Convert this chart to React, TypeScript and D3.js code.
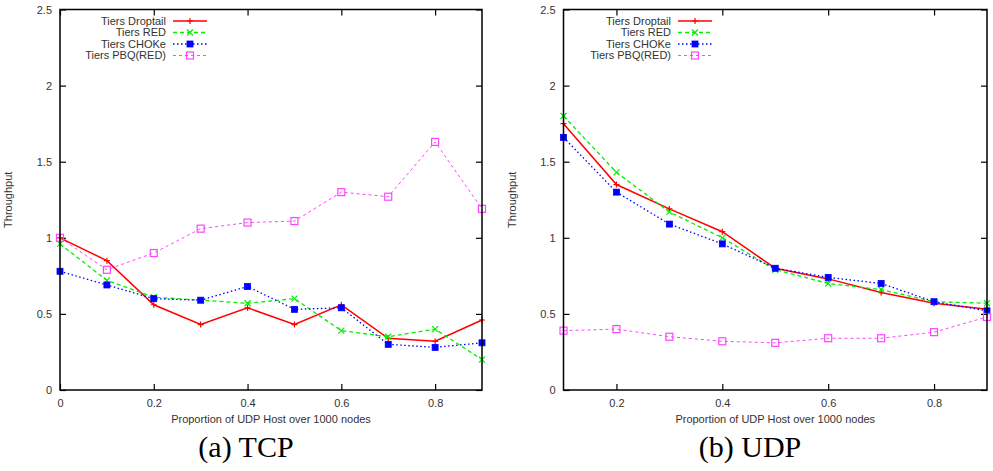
import React, { useEffect, useRef } from 'react'
import * as d3 from 'd3'

// proportion of UDP hosts
const tcpX = [0, 0.1, 0.2, 0.3, 0.4, 0.5, 0.6, 0.7, 0.8, 0.9]
const udpX = [0.1, 0.2, 0.3, 0.4, 0.5, 0.6, 0.7, 0.8, 0.9]

const seriesNames = ['Tiers Droptail', 'Tiers RED', 'Tiers CHOKe', 'Tiers PBQ(RED)']

const tcpDroptail = [1.0, 0.85, 0.56, 0.43, 0.54, 0.43, 0.56, 0.34, 0.32, 0.46]
const tcpRed = [0.96, 0.72, 0.61, 0.59, 0.57, 0.6, 0.39, 0.35, 0.4, 0.2]
const tcpChoke = [0.78, 0.69, 0.6, 0.59, 0.68, 0.53, 0.54, 0.3, 0.28, 0.31]
const tcpPbq = [1.0, 0.79, 0.9, 1.06, 1.1, 1.11, 1.3, 1.27, 1.63, 1.19]

const udpDroptail = [1.75, 1.35, 1.19, 1.04, 0.8, 0.73, 0.64, 0.57, 0.53]
const udpRed = [1.8, 1.43, 1.17, 1.0, 0.79, 0.7, 0.66, 0.58, 0.57]
const udpChoke = [1.66, 1.3, 1.09, 0.96, 0.8, 0.74, 0.7, 0.58, 0.52]
const udpPbq = [0.39, 0.4, 0.35, 0.32, 0.31, 0.34, 0.34, 0.38, 0.48]

const yTicks = [0, 0.5, 1, 1.5, 2, 2.5]
const xTicks = [0, 0.2, 0.4, 0.6, 0.8]

const styles = [
  { color: '#ff0000', dash: null, width: 1.5, marker: 'plus' },
  { color: '#00ee00', dash: '4,3', width: 1.3, marker: 'cross' },
  { color: '#0000ff', dash: '1.5,2.5', width: 1.3, marker: 'square' },
  { color: '#ff44ff', dash: '3,3', width: 1, marker: 'open' },
]

const font = 'Liberation Sans, Arial, sans-serif'
const textColor = '#333'

function drawMarker(g, kind, x, y, color) {
  if (kind === 'plus') {
    g.append('path').attr('d', `M${x - 3},${y}H${x + 3}M${x},${y - 3}V${y + 3}`)
      .attr('stroke', color).attr('stroke-width', 1.2)
  } else if (kind === 'cross') {
    g.append('path').attr('d', `M${x - 3},${y - 3}L${x + 3},${y + 3}M${x - 3},${y + 3}L${x + 3},${y - 3}`)
      .attr('stroke', color).attr('stroke-width', 1.2)
  } else if (kind === 'square') {
    g.append('rect').attr('x', x - 3).attr('y', y - 3).attr('width', 6).attr('height', 6)
      .attr('fill', color).attr('stroke', color).attr('stroke-width', 0.8)
  } else {
    g.append('rect').attr('x', x - 3.5).attr('y', y - 3.5).attr('width', 7).attr('height', 7)
      .attr('fill', 'none').attr('stroke', color).attr('stroke-width', 1.2)
  }
}

function drawPanel(svg, opts) {
  const { xs, series, xDomain, left, right, legendX } = opts
  const top = 9.5
  const bottom = 390
  const x = d3.scaleLinear().domain(xDomain).range([left, right])
  const y = d3.scaleLinear().domain([0, 2.5]).range([bottom, top])

  const g = svg.append('g')

  const xt = xTicks.filter(t => t >= xDomain[0] - 1e-9)
  const axisStyle = sel => {
    sel.select('.domain').remove()
    sel.selectAll('line').attr('stroke', '#000').attr('stroke-width', 1.2)
    sel.selectAll('text').attr('font-family', font).attr('font-size', 11).attr('fill', textColor)
  }

  g.append('g').attr('transform', `translate(0,${bottom})`)
    .call(d3.axisBottom(x).tickValues(xt).tickSize(-6).tickPadding(9).tickFormat(d3.format('')))
    .call(axisStyle)
  g.append('g').attr('transform', `translate(0,${top})`)
    .call(d3.axisTop(x).tickValues(xt).tickSize(-6).tickFormat(() => ''))
    .call(axisStyle)
  g.append('g').attr('transform', `translate(${left},0)`)
    .call(d3.axisLeft(y).tickValues(yTicks).tickSize(-6).tickPadding(8).tickFormat(d3.format('')))
    .call(axisStyle)
  g.append('g').attr('transform', `translate(${right},0)`)
    .call(d3.axisRight(y).tickValues(yTicks).tickSize(-6).tickFormat(() => ''))
    .call(axisStyle)

  const line = d3.line().x(d => x(d[0])).y(d => y(d[1]))

  series.forEach((vals, i) => {
    const s = styles[i]
    const pts = xs.map((v, j) => [v, vals[j]])
    g.append('path').attr('d', line(pts)).attr('fill', 'none')
      .attr('stroke', s.color).attr('stroke-width', s.width)
      .attr('stroke-dasharray', s.dash)
    pts.forEach(p => drawMarker(g, s.marker, x(p[0]), y(p[1]), s.color))
  })

  // legend
  seriesNames.forEach((name, i) => {
    const s = styles[i]
    const ly = 21 + i * 11.5
    g.append('text').attr('x', legendX).attr('y', ly).attr('dy', '0.35em')
      .attr('text-anchor', 'end').attr('font-family', font).attr('font-size', 11)
      .attr('fill', textColor).text(name)
    g.append('path').attr('d', `M${legendX + 7},${ly}H${legendX + 41}`)
      .attr('stroke', s.color).attr('stroke-width', s.width).attr('stroke-dasharray', s.dash)
    drawMarker(g, s.marker, legendX + 24, ly, s.color)
  })

  g.append('rect').attr('x', left).attr('y', top).attr('width', right - left).attr('height', bottom - top)
    .attr('fill', 'none').attr('stroke', '#000').attr('stroke-width', 1.5)

  g.append('text').attr('x', (left + right) / 2).attr('y', 423).attr('text-anchor', 'middle')
    .attr('font-family', font).attr('font-size', 11).attr('fill', textColor)
    .text('Proportion of UDP Host over 1000 nodes')
  g.append('text').attr('transform', `translate(${left - 48},${(top + bottom) / 2}) rotate(-90)`)
    .attr('text-anchor', 'middle').attr('font-family', font).attr('font-size', 11).attr('fill', textColor)
    .text('Throughput')
}

export default function App() {
  const ref = useRef(null)
  useEffect(() => {
    const svg = d3.select(ref.current)
    svg.selectAll('*').remove()
    drawPanel(svg, {
      xs: tcpX, series: [tcpDroptail, tcpRed, tcpChoke, tcpPbq],
      xDomain: [0, 0.9], left: 60, right: 482, legendX: 166,
    })
    drawPanel(svg, {
      xs: udpX, series: [udpDroptail, udpRed, udpChoke, udpPbq],
      xDomain: [0.1, 0.9], left: 563.5, right: 987, legendX: 671,
    })
    svg.append('text').attr('x', 246).attr('y', 457).attr('text-anchor', 'middle')
      .attr('font-family', 'Liberation Serif, serif').attr('font-size', 30).text('(a) TCP')
    svg.append('text').attr('x', 750).attr('y', 457).attr('text-anchor', 'middle')
      .attr('font-family', 'Liberation Serif, serif').attr('font-size', 30).text('(b) UDP')
  }, [])
  return (
    <svg ref={ref} width={993} height={471}
      style={{ position: 'absolute', left: 0, top: 0, background: '#fff' }} />
  )
}
